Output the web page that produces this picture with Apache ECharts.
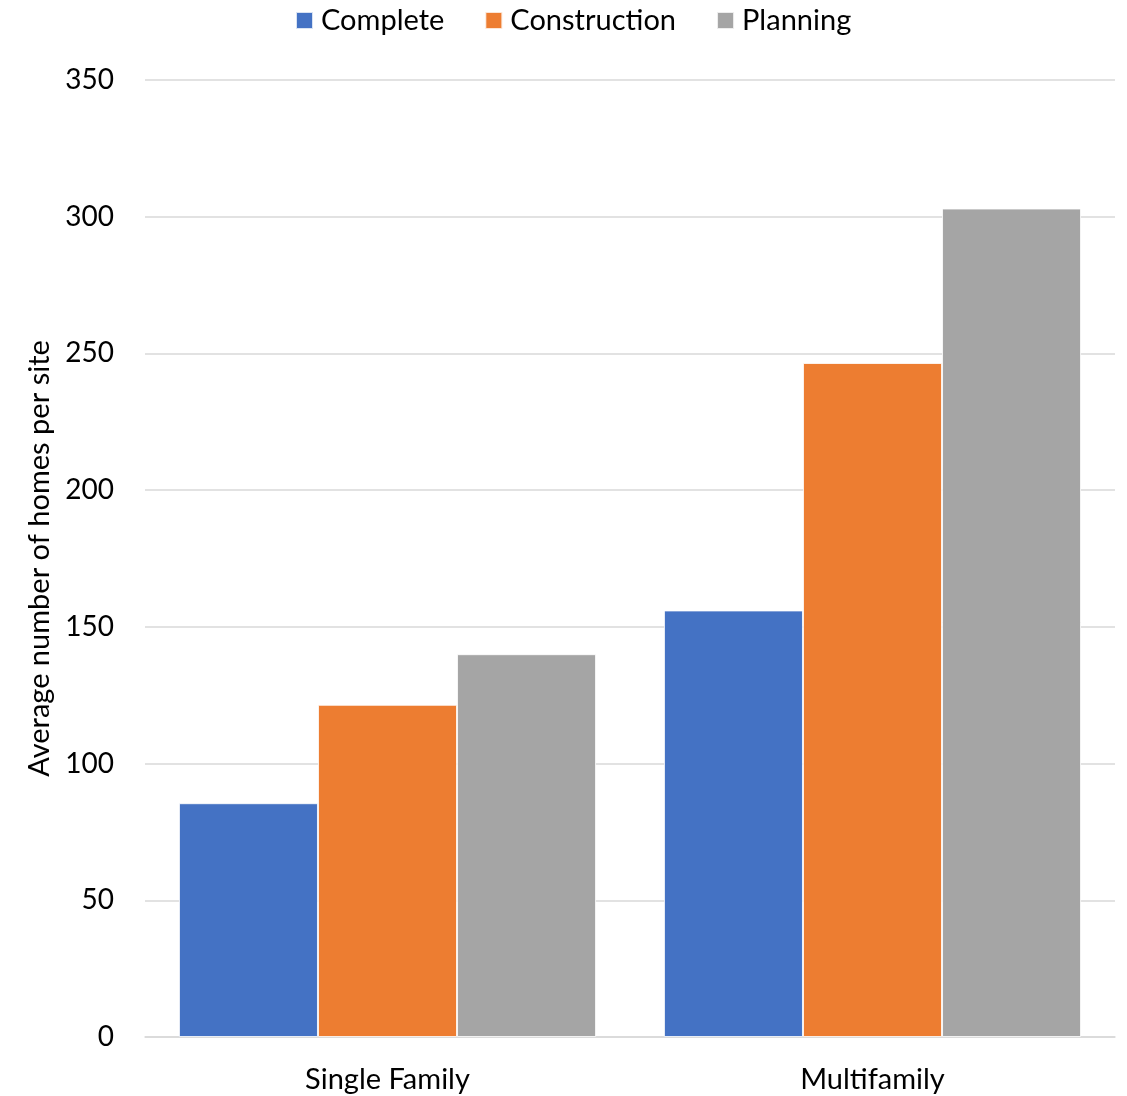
<!DOCTYPE html>
<html><head><meta charset="utf-8">
<script src="https://cdn.jsdelivr.net/npm/echarts@6/dist/echarts.min.js"></script>
<style>html,body{margin:0;padding:0;background:#fff}#c{width:1127px;height:1096px}</style>
</head><body><div id="c"></div>
<script>
const categories = ['Single Family', 'Multifamily'];
const seriesNames = ['Complete', 'Construction', 'Planning'];
const complete = [85.5, 156];
const construction = [121.5, 246.5];
const planning = [140, 303];
const colors = ['#4472C4', '#ED7D31', '#A5A5A5'];
const FONT = 'Lato';
const chart = echarts.init(document.getElementById('c'));
const mk = (name, data, i) => ({
  name, type: 'bar', data, barGap: '0%', barCategoryGap: '14%',
  itemStyle: { color: colors[i], borderColor: 'rgba(255,255,255,0.8)', borderWidth: 1 }
});
chart.setOption({
  animation: false,
  textStyle: { fontFamily: FONT },
  legend: {
    top: 1, left: 290, itemWidth: 17, itemHeight: 17, itemGap: 40,
    icon: 'rect',
    textStyle: { fontSize: 29, color: '#000', fontFamily: FONT, padding: [0, 0, 0, 3] }
  },
  grid: { left: 145, right: 12, top: 80, bottom: 59 },
  xAxis: {
    type: 'category', data: categories,
    axisLine: { lineStyle: { color: '#D9D9D9', width: 1.5 } },
    axisTick: { show: false },
    axisLabel: { fontSize: 29, color: '#000', margin: 28, fontFamily: FONT }
  },
  yAxis: {
    type: 'value', min: 0, max: 350, interval: 50,
    name: 'Average number of homes per site', nameLocation: 'middle', nameGap: 91, nameRotate: 90,
    nameTextStyle: { fontSize: 29, color: '#000', fontFamily: FONT },
    axisLine: { show: false }, axisTick: { show: false },
    axisLabel: { fontSize: 28, color: '#000', margin: 31, fontFamily: FONT },
    splitLine: { lineStyle: { color: '#D9D9D9', width: 1.5 } }
  },
  series: [mk(seriesNames[0], complete, 0), mk(seriesNames[1], construction, 1), mk(seriesNames[2], planning, 2)]
});
</script></body></html>
